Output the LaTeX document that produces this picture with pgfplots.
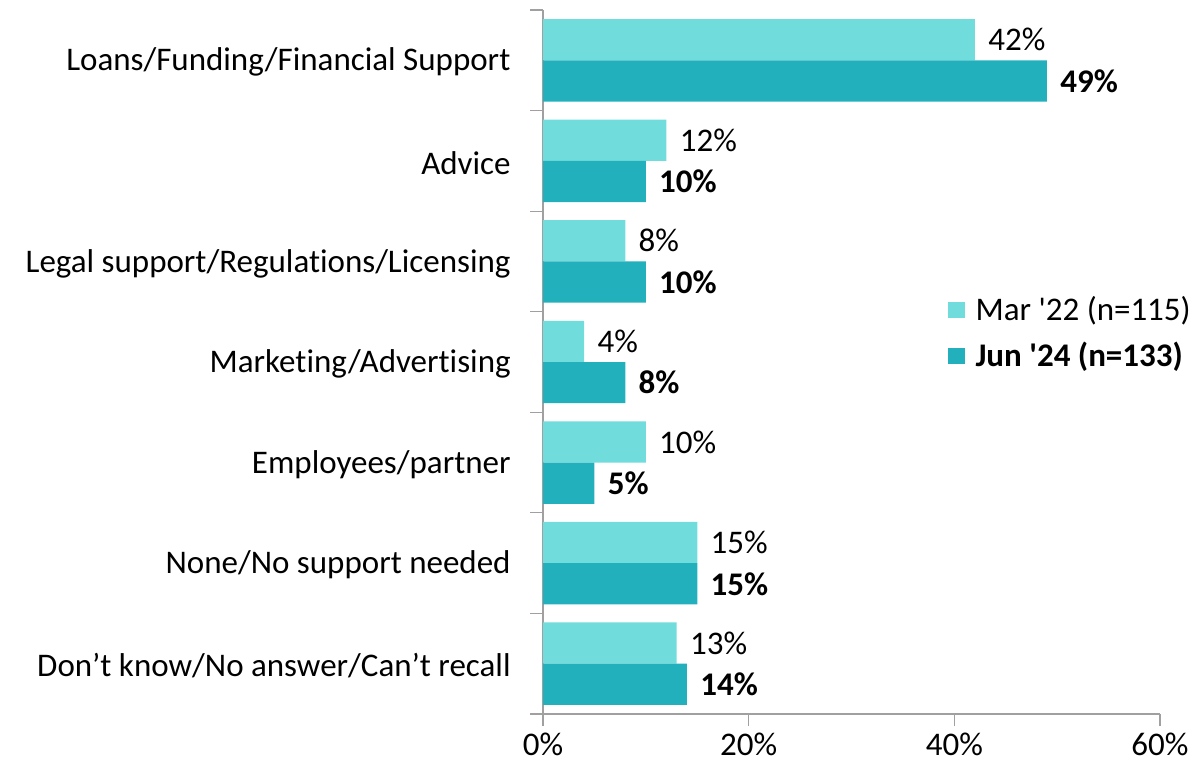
\documentclass[border=0pt]{standalone}
\usepackage{pgfplots}
\pgfplotsset{compat=1.18}
\usepackage{fontspec}
\setmainfont{Carlito}[Ligatures={NoCommon}]
\definecolor{lightteal}{HTML}{70DCDB}
\definecolor{darkteal}{HTML}{22B0BD}
\definecolor{axisgrey}{HTML}{A0A0A0}
\newcommand{\fs}{\fontsize{16.5}{19}\selectfont}
\begin{document}
\begin{tikzpicture}
\begin{axis}[
  at={(271.5pt,25pt)}, anchor=south west,
  scale only axis, width=308.5pt, height=352pt,
  xbar, y dir=reverse,
  xmin=0, xmax=60, ymin=-0.5, ymax=6.5,
  axis x line*=bottom, axis y line*=left,
  axis line style={axisgrey, line width=0.6pt},
  xtick={0,20,40,60},
  xticklabel={\pgfmathprintnumber{\tick}\%},
  /pgf/number format/assume math mode=true,
  ytick={0,...,6},
  yticklabels={Loans/Funding/Financial Support, Advice, Legal support/Regulations/Licensing, Marketing/Advertising, Employees/partner, None/No support needed, Don’t know/No answer/Can’t recall},
  minor ytick={-0.5,0.5,...,6.5},
  tick align=outside,
  major tick length=6pt,
  minor tick length=6.5pt,
  y tick style={draw=none},
  minor y tick style={draw=axisgrey, line width=0.6pt},
  x tick style={axisgrey, line width=0.6pt},
  every tick label/.append style={font=\fs, text=black},
  yticklabel style={inner sep=0pt, xshift=-10pt, yshift=-1pt},
  xticklabel style={inner sep=0pt, yshift=-3.5pt},
  bar width=0.41,
  nodes near coords={\pgfmathprintnumber{\pgfplotspointmeta}\%},
  every node near coord/.append style={anchor=west, inner sep=0pt, xshift=6.5pt, font=\fs, text=black},
  legend style={at={(0.655,0.541)}, anchor=west, draw=none, fill=none,
    font=\fs, row sep=5pt, inner sep=0pt,
    cells={anchor=west}},
  legend image code/.code={\fill[#1] (0pt,-4pt) rectangle (8.5pt,4pt); \path (12pt,0pt);},
  clip=false,
]
\addplot+[draw=none, fill=lightteal, bar shift=-0.205] coordinates {
 (42,0) (12,1) (8,2) (4,3) (10,4) (15,5) (13,6)};
\addlegendentry{Mar \textquotesingle 22 (n=115)}
\addplot+[draw=none, fill=darkteal, bar shift=0.205,
  every node near coord/.append style={font=\fs\bfseries}] coordinates {
 (49,0) (10,1) (10,2) (8,3) (5,4) (15,5) (14,6)};
\addlegendentry{\textbf{Jun \textquotesingle 24 (n=133)}}
\end{axis}
\pgfresetboundingbox
\path[use as bounding box] (0,0) rectangle (598.5pt,382pt);
\end{tikzpicture}
\end{document}
